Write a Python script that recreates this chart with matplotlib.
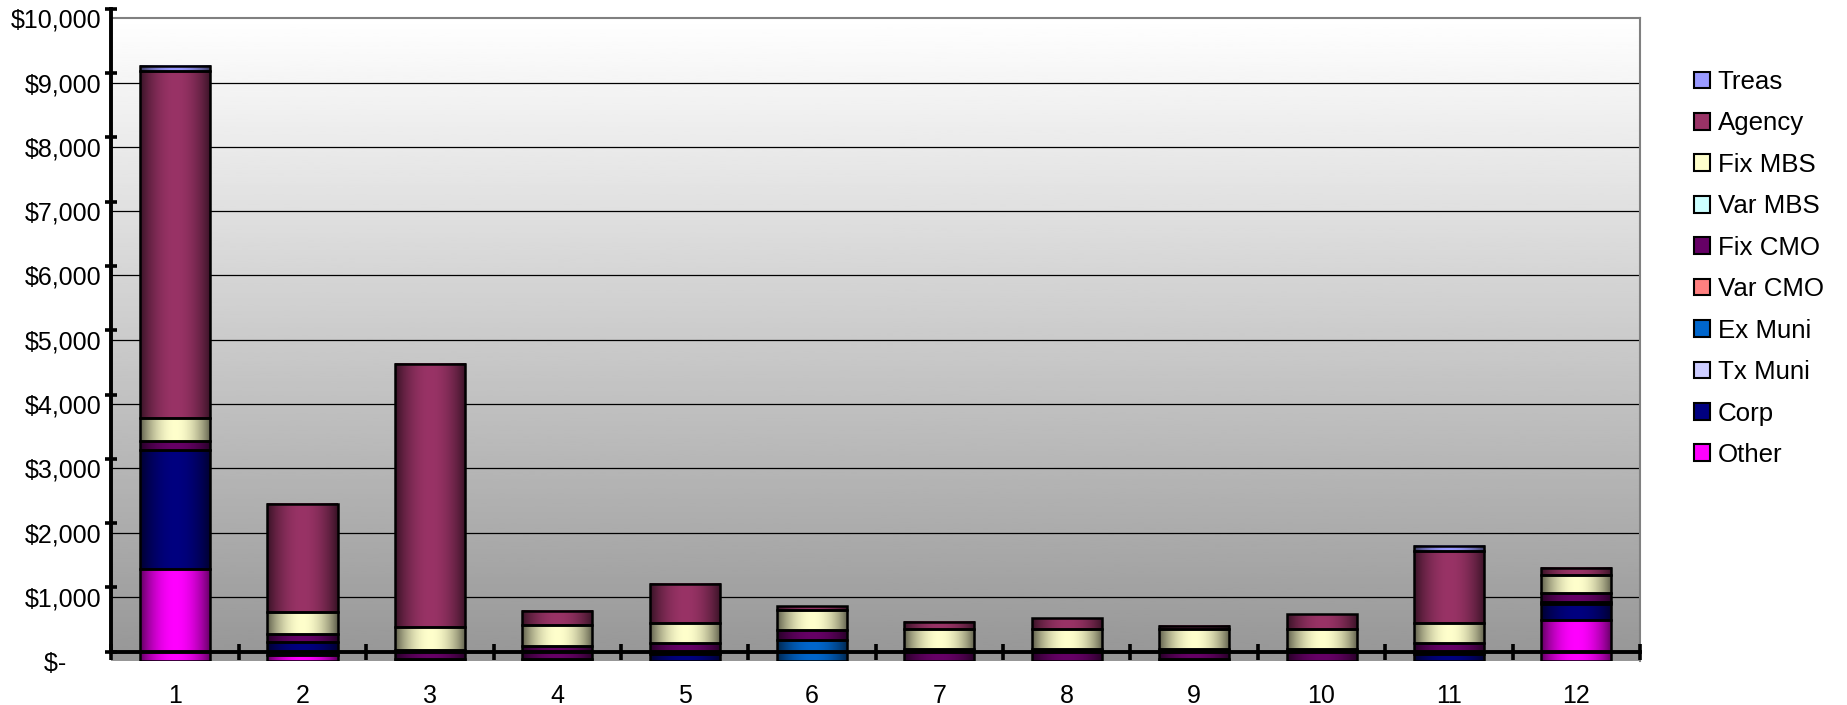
import numpy as np
import matplotlib.pyplot as plt
from matplotlib.patches import Patch
from matplotlib.colors import to_rgb

plt.rcParams['font.family'] = ['Liberation Sans', 'DejaVu Sans']
plt.rcParams['font.size'] = 18

periods = ['1', '2', '3', '4', '5', '6', '7', '8', '9', '10', '11', '12']

# holdings by sector, $ thousands
treas = [80, 0, 0, 0, 0, 0, 0, 0, 0, 0, 80, 0]
agency = [5400, 1680, 4100, 230, 610, 60, 110, 170, 50, 230, 1110, 110]
fix_mbs = [350, 340, 360, 320, 310, 310, 310, 310, 310, 310, 310, 280]
var_mbs = [0, 0, 0, 0, 0, 0, 0, 0, 0, 0, 0, 0]
fix_cmo = [150, 120, 130, 200, 160, 160, 190, 190, 150, 190, 170, 140]
var_cmo = [0, 0, 0, 0, 0, 0, 0, 0, 0, 0, 0, 0]
ex_muni = [0, 0, 0, 40, 0, 330, 0, 0, 0, 0, 0, 30]
tx_muni = [0, 0, 0, 0, 0, 0, 0, 0, 0, 0, 0, 0]
corp = [1850, 200, 40, 0, 120, 0, 0, 0, 40, 0, 120, 240]
other = [1430, 100, 0, 0, 0, 0, 0, 0, 0, 0, 0, 650]

# bottom of the stack first
stack = [
    ('Other', other, '#FF00FF'),
    ('Corp', corp, '#000080'),
    ('Tx Muni', tx_muni, '#CCCCFF'),
    ('Ex Muni', ex_muni, '#0066CC'),
    ('Var CMO', var_cmo, '#FF8080'),
    ('Fix CMO', fix_cmo, '#660066'),
    ('Var MBS', var_mbs, '#CCFFFF'),
    ('Fix MBS', fix_mbs, '#FFFFCC'),
    ('Agency', agency, '#993366'),
    ('Treas', treas, '#9999FF'),
]

W, H = 1847, 705
fig = plt.figure(figsize=(W / 100, H / 100), dpi=100)

x0, x1 = 111.4, 1640.0
y_top, y_bot = 18.3, 661.3
rect = [x0 / W, 1 - y_bot / H, (x1 - x0) / W, (y_bot - y_top) / H]
ax = fig.add_axes(rect)

# back wall: white at top fading to grey
wall = np.linspace(0.59, 1.0, 256).reshape(-1, 1)
ax.imshow(wall, cmap='gray', vmin=0, vmax=1, origin='lower', aspect='auto',
          extent=(0, 1, 0, 1), transform=ax.transAxes, zorder=0)

for v in range(1000, 10000, 1000):
    ax.axhline(v, color='black', lw=0.9, zorder=1)

# cylinder-like shading across each bar
t = np.linspace(0, 1, 80)
shade = 0.35 + 0.65 * np.sin(np.pi * t) ** 0.8

x = np.arange(1, 13)
bottom = np.zeros(12)
handles = []
for name, vals, col in stack:
    vals = np.array(vals, dtype=float)
    bars = ax.bar(x, vals, width=0.55, bottom=bottom, facecolor='none',
                  edgecolor='black', lw=1.8, zorder=3)
    rgb = np.array(to_rgb(col))
    grad = (shade[:, None] * rgb[None, :])[None, :, :]
    for patch, v in zip(bars.patches, vals):
        if v <= 0:
            patch.set_visible(False)
            continue
        bx, by = patch.get_x(), patch.get_y()
        ax.imshow(grad, extent=(bx, bx + patch.get_width(), by, by + patch.get_height()),
                  aspect='auto', interpolation='bilinear', zorder=2)
    bottom += vals
    handles.append(Patch(facecolor=col, edgecolor='black', lw=1.5, label=name))

ax.set_xlim(0.5, 12.5)
ax.set_ylim(0, 10000)
ax.set_xticks(x)
ax.set_xticklabels(periods)
yt = np.arange(0, 10001, 1000)
ax.set_yticks(yt)
ax.set_yticklabels(['$-     ' if v == 0 else f'${v:,}' for v in yt])
ax.tick_params(axis='both', length=0)
ax.tick_params(axis='y', pad=7)
ax.tick_params(axis='x', pad=16)
for s in ['left', 'bottom']:
    ax.spines[s].set_visible(False)
for s in ['top', 'right']:
    ax.spines[s].set_color('#808080')
    ax.spines[s].set_linewidth(1.5)

# axis lines sit slightly in front of the wall
shift = 9.6 / H
axl = fig.add_axes([rect[0], rect[1] + shift, rect[2], rect[3]])
axl.patch.set_visible(False)
axl.set_xlim(0.5, 12.5)
axl.set_ylim(0, 10000)
for s in ['top', 'right']:
    axl.spines[s].set_visible(False)
for s in ['left', 'bottom']:
    axl.spines[s].set_linewidth(2.8)
axl.set_yticks(yt)
axl.set_xticks(np.arange(0.5, 13, 1))
axl.tick_params(axis='y', direction='inout', length=9, width=2.6, labelleft=False)
axl.tick_params(axis='x', direction='inout', length=11, width=2.6, labelbottom=False)

fig.legend(handles=handles[::-1], loc='upper left',
           bbox_to_anchor=(1694 / W, 1 - 70 / H), frameon=False,
           handlelength=0.62, handleheight=0.62, handletextpad=0.3,
           labelspacing=0.675, borderpad=0, borderaxespad=0, fontsize=18.6)

fig.savefig('out.png', dpi=100)
